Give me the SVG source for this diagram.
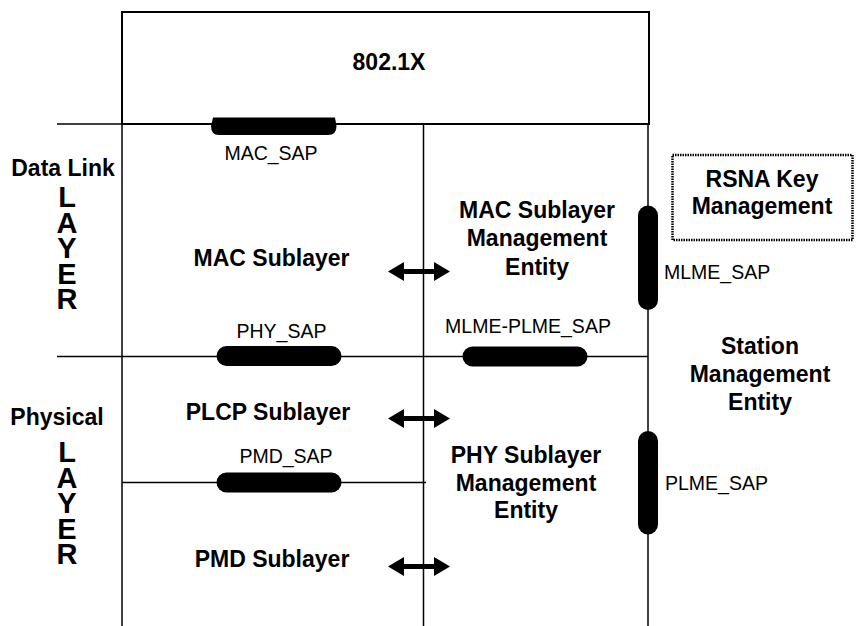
<svg xmlns="http://www.w3.org/2000/svg" width="867" height="626" viewBox="0 0 867 626">
  <defs>
    <style>
      .ln { stroke: #000; stroke-width: 1.5; fill: none; }
      .box { stroke: #000; stroke-width: 2; fill: #fff; }
      .dot { stroke: #000; stroke-width: 2.5; fill: #fff; stroke-dasharray: 1.5 1; }
      .sap { fill: #000; }
      .b { font-family: "Liberation Sans", Arial, sans-serif; font-weight: bold; font-size: 23px; fill: #000; text-anchor: middle; }
      .n { font-family: "Liberation Sans", Arial, sans-serif; font-size: 19.5px; fill: #000; }
      .lay { font-family: "Liberation Sans", Arial, sans-serif; font-weight: bold; font-size: 29px; fill: #000;
             writing-mode: vertical-rl; text-orientation: upright; letter-spacing: -6.5px; }
    </style>
    <!-- thick double-headed arrow, centred on the origin -->
    <path id="dbl" d="M-31,0 L-15,-9.5 L-15,-2.5 L15,-2.5 L15,-9.5 L31,0 L15,9.5 L15,2.5 L-15,2.5 L-15,9.5 Z"/>
  </defs>

  <!-- frame lines -->
  <g id="frame">
    <line class="ln" x1="57" y1="124" x2="122" y2="124"/>
    <line class="ln" x1="122" y1="124" x2="122" y2="626"/>
    <line class="ln" x1="423.5" y1="124" x2="423.5" y2="626"/>
    <line class="ln" x1="648" y1="124" x2="648" y2="626"/>
    <line class="ln" x1="57" y1="356.5" x2="648" y2="356.5"/>
    <line class="ln" x1="122" y1="482.5" x2="426" y2="482.5"/>
  </g>

  <g id="n8021x">
    <rect class="box" x="122" y="12" width="527" height="112"/>
    <text class="b" x="389" y="70">802.1X</text>
  </g>

  <g id="data-link">
    <text class="b" x="63" y="176">Data Link</text>
    <text class="lay" x="67" y="181">LAYER</text>
  </g>

  <g id="physical">
    <text class="b" x="57" y="425">Physical</text>
    <text class="lay" x="67" y="436">LAYER</text>
  </g>

  <g id="mac-sap">
    <path class="sap" d="M213,117.5 L335,117.5 L336.5,126 Q336.5,135 328,135 L219,135 Q211,135 211,126 Z"/>
    <text class="n" x="271" y="160" text-anchor="middle">MAC_SAP</text>
  </g>

  <g id="mac-sublayer">
    <text class="b" x="271.5" y="266">MAC Sublayer</text>
  </g>

  <g id="phy-sap">
    <rect class="sap" x="216.5" y="346" width="125" height="20" rx="10"/>
    <text class="n" x="281.5" y="338" text-anchor="middle">PHY_SAP</text>
  </g>

  <g id="plcp-sublayer">
    <text class="b" x="268" y="420">PLCP Sublayer</text>
  </g>

  <g id="pmd-sap">
    <rect class="sap" x="216.5" y="472.5" width="125" height="20" rx="10"/>
    <text class="n" x="286" y="463" text-anchor="middle">PMD_SAP</text>
  </g>

  <g id="pmd-sublayer">
    <text class="b" x="272" y="567">PMD Sublayer</text>
  </g>

  <g id="mlme">
    <text class="b" x="537" y="218">MAC Sublayer</text>
    <text class="b" x="537" y="246">Management</text>
    <text class="b" x="537" y="275">Entity</text>
  </g>

  <g id="mlme-plme-sap">
    <rect class="sap" x="462.5" y="346.5" width="125" height="20" rx="10"/>
    <text class="n" x="528" y="333" text-anchor="middle">MLME-PLME_SAP</text>
  </g>

  <g id="plme">
    <text class="b" x="526" y="463">PHY Sublayer</text>
    <text class="b" x="526" y="491">Management</text>
    <text class="b" x="526" y="518">Entity</text>
  </g>

  <g id="rsna">
    <rect class="dot" x="672.5" y="155" width="180" height="85"/>
    <text class="b" x="762" y="187">RSNA Key</text>
    <text class="b" x="762" y="213.5">Management</text>
  </g>

  <g id="mlme-sap">
    <rect class="sap" x="638" y="205.5" width="20" height="104.5" rx="10"/>
    <text class="n" x="664" y="278.5">MLME_SAP</text>
  </g>

  <g id="sme">
    <text class="b" x="760" y="353.5">Station</text>
    <text class="b" x="760" y="382">Management</text>
    <text class="b" x="760" y="410">Entity</text>
  </g>

  <g id="plme-sap">
    <rect class="sap" x="638" y="431" width="20" height="103.5" rx="10"/>
    <text class="n" x="665" y="490">PLME_SAP</text>
  </g>

  <!-- interfaces between sublayers and their management entities -->
  <g id="connectors">
    <use href="#dbl" x="419" y="271.5"/>
    <use href="#dbl" x="419" y="418.5"/>
    <use href="#dbl" x="419" y="566.5"/>
  </g>
</svg>
